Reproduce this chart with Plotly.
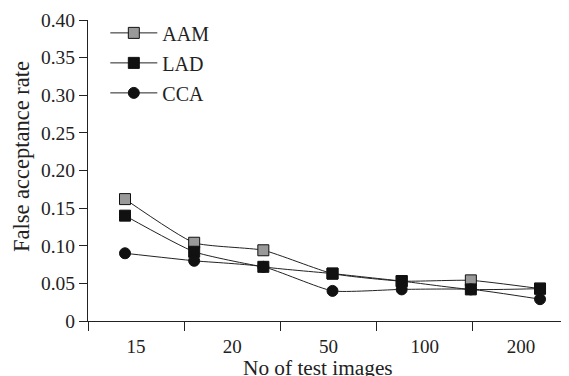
import plotly.graph_objects as go

# Data
sample_index = [1, 2, 3, 4, 5, 6, 7]
x_labels = ["15", "20", "50", "100", "200"]
aam = [0.162, 0.104, 0.094, 0.063, 0.053, 0.054, 0.043]
lad = [0.140, 0.092, 0.072, 0.063, 0.053, 0.042, 0.043]
cca = [0.090, 0.080, 0.072, 0.040, 0.042, 0.042, 0.029]
y_ticks = [0, 0.05, 0.10, 0.15, 0.20, 0.25, 0.30, 0.35, 0.40]
y_ticktext = ["0", "0.05", "0.10", "0.15", "0.20", "0.25", "0.30", "0.35", "0.40"]

FONT = "Liberation Serif"

fig = go.Figure()

series = [
    ("AAM", aam, "square", "#999999"),
    ("LAD", lad, "square", "#111111"),
    ("CCA", cca, "circle", "#111111"),
]
for i, (name, vals, sym, fill) in enumerate(series):
    fig.add_trace(go.Scatter(
        x=sample_index, y=vals, name=name, xaxis="x2", yaxis="y",
        mode="lines+markers", legendgroup=f"g{i}",
        line=dict(color="#222222", width=1, shape="spline", smoothing=0.5),
        marker=dict(symbol=sym, size=11, color=fill, line=dict(color="#111111", width=1)),
    ))

# invisible trace to anchor label axis
fig.add_trace(go.Scatter(x=[0.5, 4.5], y=[None, None], xaxis="x", yaxis="y",
                         showlegend=False, hoverinfo="skip", mode="markers"))

# The page body has an 8px margin; size/margins compensate so the plot lands
# at the same place as the reference in a 569x376 window.
fig.update_layout(
    width=561, height=368,
    margin=dict(l=80, r=0, t=12, b=55),
    paper_bgcolor="white", plot_bgcolor="white",
    font=dict(family=FONT, size=19, color="#222222"),
    showlegend=True,
    legend=dict(x=0.036, y=1.022, xanchor="left", yanchor="top", itemwidth=47,
                bgcolor="rgba(0,0,0,0)", traceorder="grouped", tracegroupgap=1,
                font=dict(family=FONT, size=20)),
    xaxis=dict(
        range=[0, 5], tickvals=[0.5, 1.5, 2.5, 3.5, 4.5], ticktext=x_labels,
        ticks="", showline=True, linecolor="#222222", linewidth=1,
        showgrid=False, zeroline=False, automargin=False,
        tickfont=dict(size=19), ticklabelstandoff=8,
    ),
    xaxis3=dict(
        overlaying="x", range=[0, 5], tickvals=[0, 1, 2, 3, 4, 5], ticktext=[""] * 6,
        ticks="outside", ticklen=9, tickcolor="#222222", showline=False,
        showgrid=False, zeroline=False, anchor="y", side="bottom", automargin=False,
    ),
    xaxis2=dict(
        overlaying="x", range=[1 - 37 / 69.17, 1 + 444 / 69.17], visible=False,
        anchor="y",
    ),
    yaxis=dict(
        range=[0, 0.4], tickvals=y_ticks, ticktext=y_ticktext,
        ticks="outside", ticklen=8, tickcolor="#222222",
        showline=True, linecolor="#222222", linewidth=1,
        showgrid=False, zeroline=False, automargin=False,
        tickfont=dict(size=19.5),
    ),
    annotations=[
        dict(text="False acceptance rate", textangle=-90, xref="paper", yref="paper",
             x=-0.137, y=0.545, xanchor="center", yanchor="middle", showarrow=False,
             font=dict(family=FONT, size=22.5, color="#222222")),
        dict(text="No of test images", xref="paper", yref="paper",
             x=0.478, y=-0.108, xanchor="center", yanchor="top", showarrow=False,
             font=dict(family=FONT, size=21.3, color="#222222")),
    ],
)

# empty trace for tick-mark axis
fig.add_trace(go.Scatter(x=[0, 5], y=[None, None], xaxis="x3", yaxis="y",
                         showlegend=False, hoverinfo="skip", mode="markers"))

fig.write_html("out.html")
